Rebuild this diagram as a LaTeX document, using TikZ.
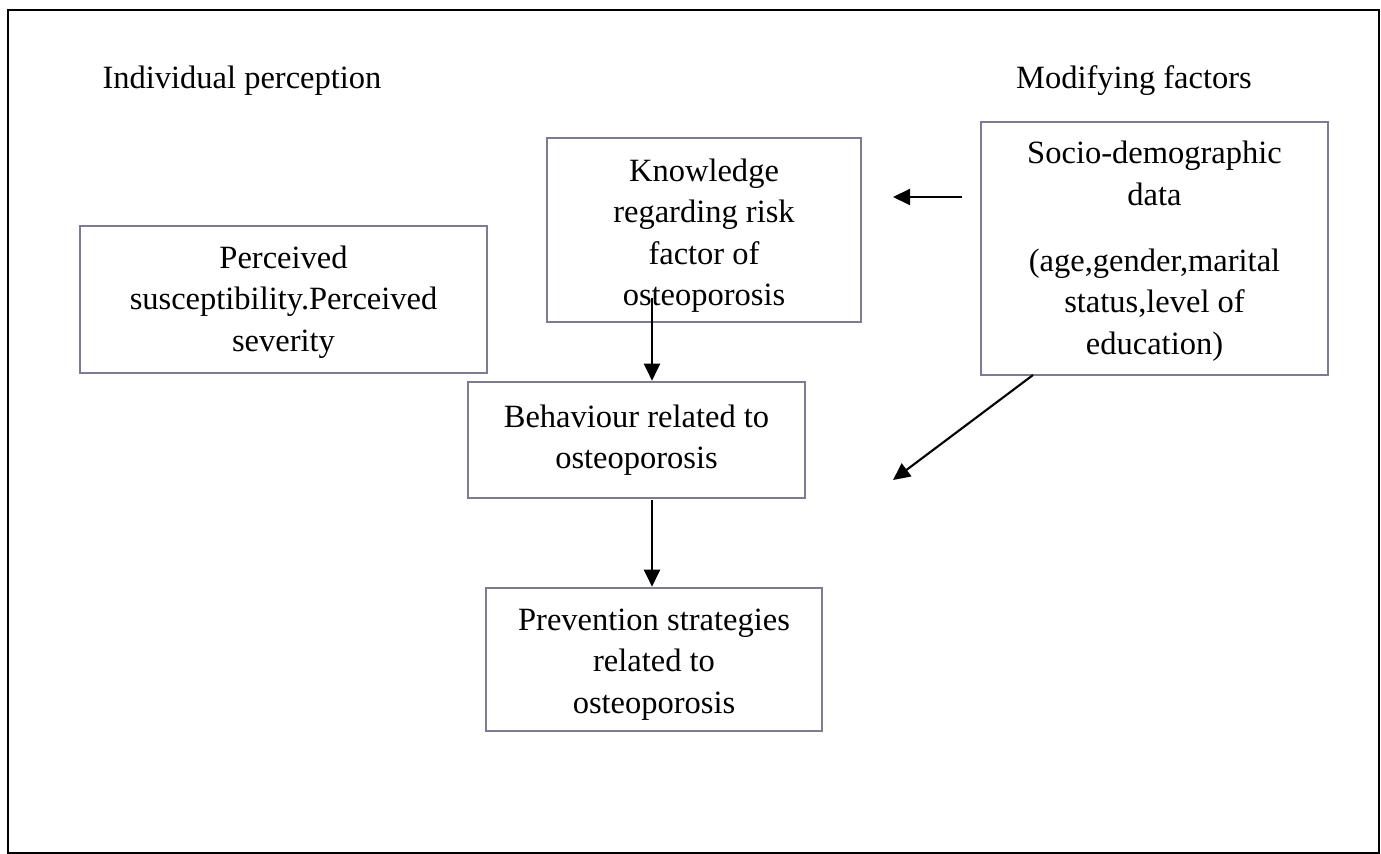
\documentclass[tikz,border=0pt]{standalone}
\usepackage{fontspec}
\setmainfont{Liberation Serif}
\usetikzlibrary{arrows.meta}
\definecolor{boxgray}{RGB}{125,123,145}
\newcommand{\topstrut}[1]{\rule{0pt}{#1}}
\begin{document}
\begin{tikzpicture}[x=0.02cm, y=-0.02cm,
		every node/.style={font=\fontsize{18.5}{23.5}\selectfont},
		factorbox/.style={draw=boxgray, line width=1.5pt, inner sep=0pt, align=center},
		arr/.style={-{Triangle[length=0.34cm, width=0.32cm]}, line width=1.2pt}]
		\useasboundingbox (0,0) rectangle (1381,854);
		%outer frame
		\draw[line width=1.2pt] (8,10) rectangle (1379,853);
		
		%headings
		\node (hind) at (242,81) {Individual perception};
		\node (hmod) at (1134,81) {Modifying factors};
		
		%boxes
		\node[factorbox, minimum width=8.14cm, minimum height=2.94cm] (perc) at (283.5,299.5)
			{\topstrut{0.56cm}Perceived\\susceptibility.Perceived\\severity};
		\node[factorbox, minimum width=6.28cm, minimum height=3.68cm] (know) at (704,230)
			{\topstrut{0.68cm}Knowledge\\regarding risk\\factor of\\osteoporosis};
		\node[factorbox, minimum width=6.94cm, minimum height=5.06cm] (socio) at (1154.5,248.5)
			{\topstrut{0.56cm}Socio-demographic\\data\\[0.5cm](age,gender,marital\\status,level of\\education)};
		\node[factorbox, minimum width=6.74cm, minimum height=2.32cm] (behav) at (636.5,440)
			{Behaviour related to\\osteoporosis};
		\node[factorbox, minimum width=6.72cm, minimum height=2.86cm] (prev) at (654,659.5)
			{\topstrut{0.63cm}Prevention strategies\\related to\\osteoporosis};
		
		%arrows
		\coordinate (k1) at (652,298);
		\coordinate (b1) at (652,500);
		\coordinate (s1) at (962,197);
		\coordinate (s2) at (893,197);
		\coordinate (s3) at (1033,375);
		\coordinate (s4) at (893,480);
		\draw[arr] (k1) -- (k1 |- behav.north);
		\draw[arr] (b1) -- (b1 |- prev.north);
		\draw[arr] (s1) -- (s2);
		\draw[arr] (s3) -- (s4);
\end{tikzpicture}
\end{document}
